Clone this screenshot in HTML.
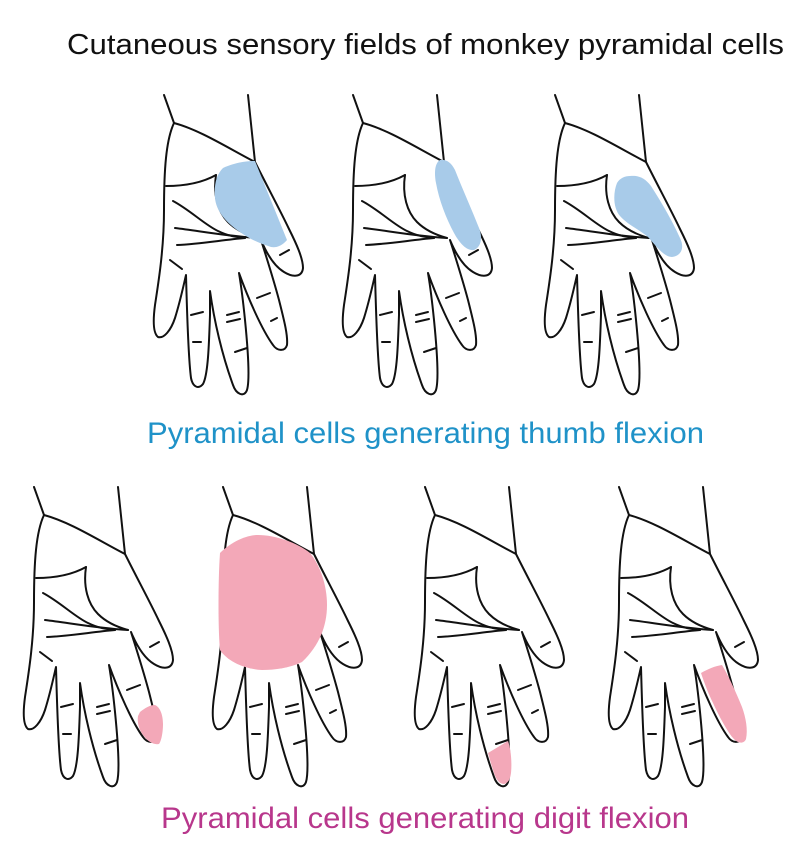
<!DOCTYPE html>
<html>
<head>
<meta charset="utf-8">
<style>
html,body{margin:0;padding:0;background:#fff;}
svg{display:block;}
</style>
</head>
<body>
<svg width="807" height="850" viewBox="0 0 807 850" xmlns="http://www.w3.org/2000/svg">
<rect width="807" height="850" fill="#ffffff"/>
<defs>
<g id="hand" fill="none" stroke="#111" stroke-width="2" stroke-linecap="round" stroke-linejoin="round">
  <!-- wrist -->
  <path d="M164,95 L174,123"/>
  <path d="M174,123 C200,130 228,148 255,162"/>
  <!-- outline -->
  <path d="M174,123 C166,140 164,170 164,210 C164,250 158,285 155,305 C153,320 153,333 158,337 C164,339 171,330 175,318 C180,302 183,288 186,275
           C187,310 188,355 191,378 C193,388 199,389 203,384 C208,375 209,345 210,315 C210,300 210,295 210,291
           C214,320 222,355 233,385 C236,394 244,398 247,390 C250,380 248,350 245,320 C243,300 241,285 239,273
           C248,298 262,330 273,345 C277,351 285,352 287,345 C288,335 284,320 279,300 C275,285 268,262 261,240
           C266,252 274,266 284,272 C292,277 302,278 303,268 C303,258 296,243 289,229 C280,210 268,188 255,162 L248,95"/>
  <!-- palm lines -->
  <path d="M166,186 C180,186 200,184 216,175"/>
  <path d="M216,175 C213,195 218,212 228,222 C236,230 247,235 258,238"/>
  <path d="M173,201 C190,210 205,225 218,231 C228,236 236,237 245,238"/>
  <path d="M175,228 C200,231 225,236 258,238"/>
  <path d="M177,245 C200,244 222,240 245,238"/>
  <path d="M170,260 L182,269"/>
  <!-- creases -->
  <path d="M280,255 L289,250"/>
  <path d="M257,298 L270,293"/>
  <path d="M271,321 L277,318"/>
  <path d="M227,315 L239,312"/>
  <path d="M227,322 L240,319"/>
  <path d="M235,352 L247,348"/>
  <path d="M191,315 L203,312"/>
  <path d="M193,342 L201,342"/>
</g>
</defs>

<!-- top row -->
<use href="#hand" transform="translate(0,0)"/>
<use href="#hand" transform="translate(189,0)"/>
<use href="#hand" transform="translate(391,0)"/>
<!-- bottom row -->
<use href="#hand" transform="translate(-130,392)"/>
<use href="#hand" transform="translate(59,392)"/>
<use href="#hand" transform="translate(261,392)"/>
<use href="#hand" transform="translate(455,392)"/>

<!-- blue fields -->
<g fill="#a8cbe9">
  <path d="M223,168 C236,162 248,161 255,161 L287,240 C282,246 276,248 271,247 C258,243 248,238 240,232 C225,222 216,210 215,198 C214,185 216,175 223,168 Z"/>
  <path d="M440,160 C446,159 451,162 455,170 C462,188 472,210 479,228 C483,238 481,247 474,250 C467,251 460,244 454,233 C446,218 439,200 436,183 C434,172 435,163 440,160 Z"/>
  <path d="M630,176 C638,175 645,178 651,186 C660,200 672,220 680,238 C685,248 681,256 672,257 C664,257 656,246 648,237 C640,230 628,225 620,216 C613,208 613,193 617,183 C620,178 625,176 630,176 Z"/>
</g>
<!-- pink fields -->
<g fill="#f3a8b8">
  <path d="M140,712 C145,708 150,705 155,705 C160,707 163,715 163,724 C163,733 161,742 159,744 C154,745 148,742 143,735 C139,730 137,722 138,716 Z"/>
  <path d="M220,553 C230,543 245,535 258,535 C275,535 298,543 310,553 C320,565 327,585 327,605 C327,625 320,645 302,662 C290,668 275,670 262,670 C245,669 228,662 220,650 C218,630 218,580 220,553 Z"/>
  <path transform="translate(-5,3)" d="M493,750 L513,738 C516,746 517,760 516,770 C515,777 513,780 509,781 C504,781 501,776 499,770 C497,764 495,757 493,750 Z"/>
  <path d="M701,673 C708,669 715,666 722,665 C728,675 736,692 742,707 C746,718 748,730 746,739 C744,744 738,744 733,738 C727,731 719,716 713,703 C708,693 704,682 701,673 Z"/>
</g>

<!-- text -->
<text x="67" y="54" font-family="'Liberation Sans', Arial, sans-serif" font-size="29" fill="#111" textLength="717" lengthAdjust="spacingAndGlyphs">Cutaneous sensory fields of monkey pyramidal cells</text>
<text x="147" y="443" font-family="'Liberation Sans', Arial, sans-serif" font-size="30" fill="#1f92c8" textLength="557" lengthAdjust="spacingAndGlyphs">Pyramidal cells generating thumb flexion</text>
<text x="161" y="828" font-family="'Liberation Sans', Arial, sans-serif" font-size="30" fill="#b8378c" textLength="528" lengthAdjust="spacingAndGlyphs">Pyramidal cells generating digit flexion</text>
</svg>
</body>
</html>
